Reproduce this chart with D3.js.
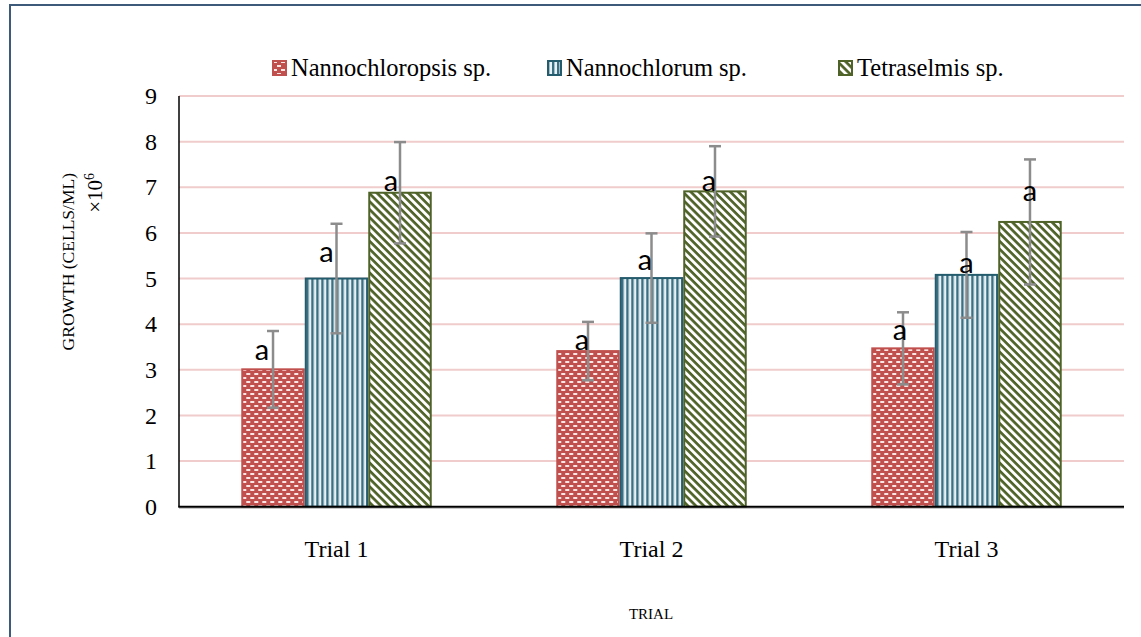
<!DOCTYPE html>
<html>
<head>
<meta charset="utf-8">
<script src="https://cdn.jsdelivr.net/npm/d3@7/dist/d3.min.js"></script>
<style>
  html, body { margin: 0; padding: 0; background: #fff; }
  svg { display: block; }
</style>
</head>
<body>
<svg id="chart" width="1141" height="637"></svg>
<script>
// ---- data ----
const trials = ["Trial 1", "Trial 2", "Trial 3"];
const species = ["Nannochloropsis sp.", "Nannochlorum sp.", "Tetraselmis sp."];
const nannochloropsis = [3.01, 3.41, 3.47];
const nannochlorum = [5.00, 5.01, 5.08];
const tetraselmis = [6.88, 6.91, 6.24];
const errNannochloropsis = [0.84, 0.64, 0.79];
const errNannochlorum = [1.20, 0.98, 0.94];
const errTetraselmis = [1.11, 0.99, 1.37];
const letters = [["a", "a", "a"], ["a", "a", "a"], ["a", "a", "a"]];
// height (in data units) where each significance letter sits
const letterLevel = [[3.39, 5.53, 7.10], [3.60, 5.36, 7.08], [3.83, 5.29, 6.86]];
const letterShift = [[-11, -10, -9], [-6, -6.5, -6], [-3, 0, 0]];
const yTicks = [0, 1, 2, 3, 4, 5, 6, 7, 8, 9];

const seriesValues = [nannochloropsis, nannochlorum, tetraselmis];
const seriesErr = [errNannochloropsis, errNannochlorum, errTetraselmis];

(function () {
const svg = d3.select("#chart");
const serif = "'Liberation Serif', 'Times New Roman', serif";

// ---- patterns ----
const defs = svg.append("defs");
const pRed = defs.append("pattern").attr("id", "pRed").attr("patternUnits", "userSpaceOnUse")
  .attr("width", 8).attr("height", 8);
pRed.append("rect").attr("width", 8).attr("height", 8).attr("fill", "#c0504d");
const dash = "#fae6e5";
pRed.append("rect").attr("x", 1).attr("y", 1).attr("width", 4).attr("height", 2).attr("fill", dash);
pRed.append("rect").attr("x", 5).attr("y", 5).attr("width", 4).attr("height", 2).attr("fill", dash);
pRed.append("rect").attr("x", -3).attr("y", 5).attr("width", 4).attr("height", 2).attr("fill", dash);
const pBlue = defs.append("pattern").attr("id", "pBlue").attr("patternUnits", "userSpaceOnUse")
  .attr("width", 5).attr("height", 5);
pBlue.append("rect").attr("width", 5).attr("height", 5).attr("fill", "#e8f1f4");
pBlue.append("rect").attr("x", 0).attr("width", 2.4).attr("height", 5).attr("fill", "#3a7083");
const pGreen = defs.append("pattern").attr("id", "pGreen").attr("patternUnits", "userSpaceOnUse")
  .attr("width", 5.6).attr("height", 5.6).attr("patternTransform", "rotate(45)");
pGreen.append("rect").attr("width", 5.6).attr("height", 5.6).attr("fill", "#ffffff");
pGreen.append("rect").attr("width", 5.6).attr("height", 2.7).attr("fill", "#4f6228");

const fills = ["url(#pRed)", "url(#pBlue)", "url(#pGreen)"];
const strokes = ["#c0504d", "#245c6e", "#4f6228"];

// ---- frame ----
svg.append("line").attr("x1", 10).attr("x2", 1141).attr("y1", 5).attr("y2", 5)
  .attr("stroke", "#3d5a7a").attr("stroke-width", 2);
svg.append("line").attr("x1", 10).attr("x2", 10).attr("y1", 4).attr("y2", 637)
  .attr("stroke", "#3d5a7a").attr("stroke-width", 2);

// ---- scales ----
const pl = 179, pr = 1124, pt = 96, pb = 506.7;
const y = d3.scaleLinear().domain([0, 9]).range([pb, pt]);
const x0 = d3.scaleBand().domain(trials).range([pl, pr])
  .paddingInner(0.3953).paddingOuter(0.1977);
const x1 = d3.scaleBand().domain(species).range([0, x0.bandwidth()]);

// gridlines
svg.append("g").selectAll("line").data(yTicks.filter(d => d > 0)).join("line")
  .attr("x1", pl).attr("x2", pr)
  .attr("y1", d => y(d)).attr("y2", d => y(d))
  .attr("stroke", "#f0cccc").attr("stroke-width", 2);

// y tick labels
const yAxis = d3.axisLeft(y).tickValues(yTicks).tickSize(0).tickPadding(22).tickFormat(d3.format("d"));
const gy = svg.append("g").attr("transform", `translate(${pl},0)`).call(yAxis);
gy.select(".domain").remove();
gy.selectAll("text").attr("font-family", serif).attr("font-size", 24).attr("fill", "#000");

// bars
const groups = svg.append("g").selectAll("g").data(trials).join("g")
  .attr("transform", d => `translate(${x0(d)},0)`);

species.forEach((s, si) => {
  groups.append("rect")
    .attr("x", x1(s) + 1)
    .attr("width", x1.bandwidth() - 2)
    .attr("y", (d, ti) => y(seriesValues[si][ti]))
    .attr("height", (d, ti) => y(0) - y(seriesValues[si][ti]))
    .attr("fill", fills[si])
    .attr("stroke", strokes[si])
    .attr("stroke-width", 2);
});

// error bars
const capW = 6;
species.forEach((s, si) => {
  groups.each(function (d, ti) {
    const g = d3.select(this);
    const cx = x1(s) + x1.bandwidth() / 2;
    const v = seriesValues[si][ti], e = seriesErr[si][ti];
    const eg = g.append("g").attr("stroke", "#8c8c8c").attr("stroke-width", 2.5);
    eg.append("line").attr("x1", cx).attr("x2", cx).attr("y1", y(v + e)).attr("y2", y(v - e));
    eg.append("line").attr("x1", cx - capW).attr("x2", cx + capW).attr("y1", y(v + e)).attr("y2", y(v + e));
    eg.append("line").attr("x1", cx - capW).attr("x2", cx + capW).attr("y1", y(v - e)).attr("y2", y(v - e));
  });
});

// letters
species.forEach((s, si) => {
  groups.each(function (d, ti) {
    const cx = x1(s) + x1.bandwidth() / 2 + letterShift[ti][si];
    d3.select(this).append("text")
      .attr("x", cx).attr("y", y(letterLevel[ti][si]))
      .attr("dy", "0.27em")
      .attr("text-anchor", "middle")
      .attr("font-family", "Lato, 'Open Sans', sans-serif")
      .attr("font-size", 29).attr("fill", "#000")
      .text(letters[ti][si]);
  });
});

// axes lines
svg.append("line").attr("x1", pl).attr("x2", pl).attr("y1", pt).attr("y2", pb)
  .attr("stroke", "#000").attr("stroke-width", 1.5);
svg.append("line").attr("x1", pl).attr("x2", pr).attr("y1", pb + 1.5).attr("y2", pb + 1.5)
  .attr("stroke", "#c8c8c8").attr("stroke-width", 1.5);
svg.append("line").attr("x1", pl - 0.75).attr("x2", pr).attr("y1", pb).attr("y2", pb)
  .attr("stroke", "#000").attr("stroke-width", 2);

// x tick labels
const xAxis = d3.axisBottom(x0).tickSize(0).tickPadding(33);
const gx = svg.append("g").attr("transform", `translate(0,${pb})`).call(xAxis);
gx.select(".domain").remove();
gx.selectAll("text").attr("font-family", serif).attr("font-size", 24).attr("fill", "#000");

// axis titles
svg.append("text").attr("x", 651).attr("y", 619).attr("text-anchor", "middle")
  .attr("font-family", serif).attr("font-size", 15)
  .attr("fill", "#000").text("TRIAL");

const yt = svg.append("g");
yt.append("text").attr("transform", "translate(74,173) rotate(-90)").attr("text-anchor", "end")
  .attr("font-family", serif).attr("font-size", 17.5)
  .attr("fill", "#000").text("GROWTH (CELLS/ML)");
const t2 = yt.append("text").attr("transform", "translate(102,173) rotate(-90)").attr("text-anchor", "end")
  .attr("font-family", serif).attr("font-size", 21)
  .attr("fill", "#000");
t2.append("tspan").text("×10");
t2.append("tspan").attr("font-size", 14).attr("dy", -8).text("6");

// legend
const legendX = [272, 547, 838];
const legend = svg.append("g").selectAll("g").data(species).join("g")
  .attr("transform", (d, i) => `translate(${legendX[i]},60)`);
legend.append("rect").attr("x", 1).attr("y", 1).attr("width", 13).attr("height", 14)
  .attr("fill", (d, i) => fills[i]).attr("stroke", (d, i) => strokes[i]).attr("stroke-width", 2);
legend.append("text").attr("x", 19).attr("y", 16)
  .attr("font-family", serif).attr("font-size", 24.5)
  .attr("fill", "#000").text(d => d);
})();
</script>
</body>
</html>
